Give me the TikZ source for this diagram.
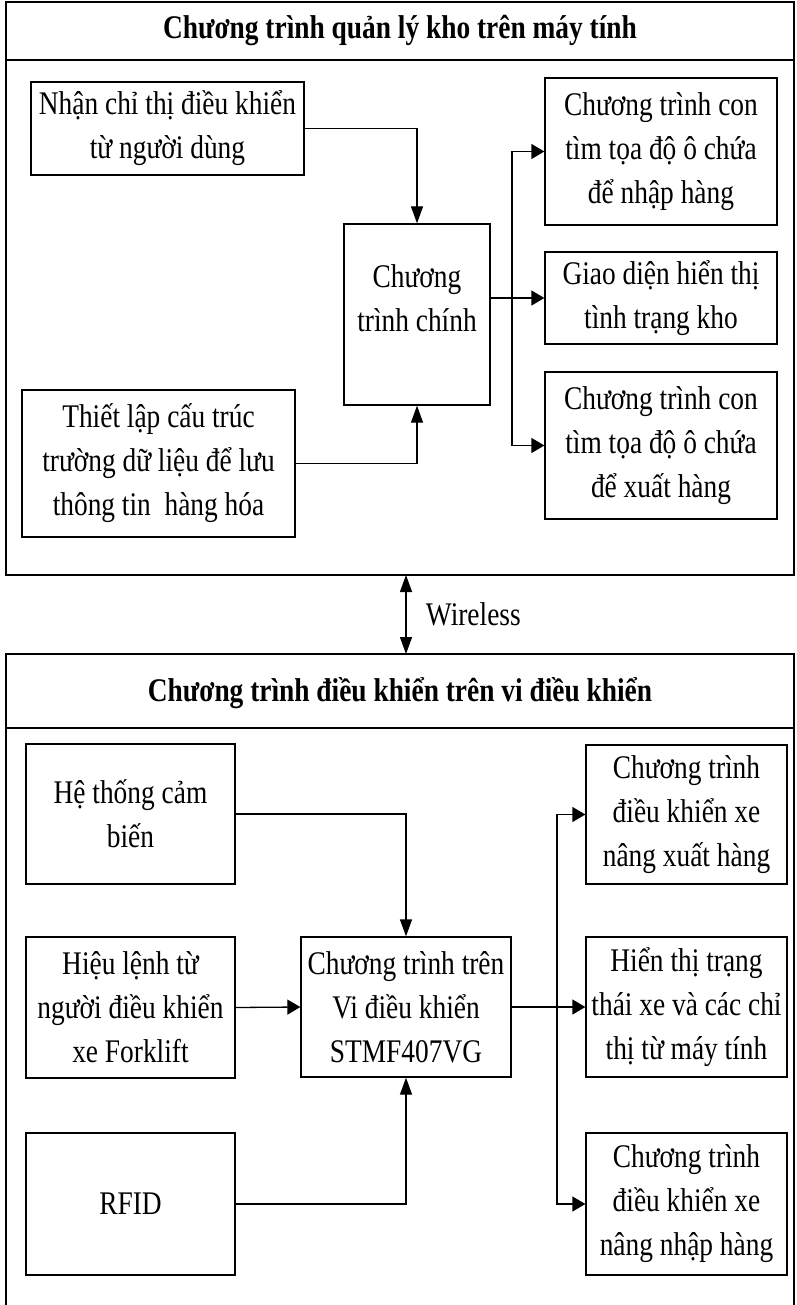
\documentclass[tikz,border=0pt]{standalone}
\usepackage{fontspec}
\setmainfont{Liberation Serif}[FakeStretch=0.83]
\usetikzlibrary{arrows.meta}

\begin{document}
\begin{tikzpicture}[x=1pt,y=-1pt,>={Triangle[length=13pt,width=15pt]},line width=1.3pt,
                    font=\fontsize{33}{44}\selectfont,
                    box/.style 2 args={draw,minimum width=#1,minimum height=#2,inner sep=0pt,align=center},
                    ttl/.style={font=\fontsize{33}{44}\selectfont\bfseries},
                    frm/.style={line width=1.8pt},
                    vtip/.style={-{Triangle[length=17pt,width=12pt]}}]
  \useasboundingbox (0,0) rectangle (796,1305);
  % computer side
  \draw[frm] (6,2) rectangle (794,575) (6,60) -- (794,60);
  \node[ttl] (pc) at (400,31) {Chương trình quản lý kho trên máy tính};
  \node[box={273}{93}] (nhan) at (167.5,128.5) {Nhận chỉ thị điều khiển\\ từ người dùng};
  \node[box={273}{147}] (cautruc) at (158.5,463.5) {Thiết lập cấu trúc\\ trường dữ liệu để lưu\\ thông tin\ \ hàng hóa};
  \node[box={146}{181}] (chinh) at (417,314.5) {};
  \node[align=center,inner sep=0pt] (chinhtxt) at (417,298) {Chương\\ trình chính};
  \node[box={232}{147}] (nhap) at (661,151.5) {Chương trình con\\ tìm tọa độ ô chứa\\ để nhập hàng};
  \node[box={232}{92}] (giaodien) at (661,298) {Giao diện hiển thị\\ tình trạng kho};
  \node[box={232}{147}] (xuat) at (661,445.5) {Chương trình con\\ tìm tọa độ ô chứa\\ để xuất hàng};
  \coordinate (tsplit) at (512,298);
  \draw[vtip] (nhan.east) -| (chinh.north);
  \draw[vtip] (cautruc.east) -| (chinh.south);
  \draw[->] (chinh.east |- giaodien.west) -- (giaodien.west);
  \draw[->] (tsplit) |- (nhap.west);
  \draw[->] (tsplit) |- (xuat.west);
  % link between the two
  \coordinate (wtop) at (406,575);
  \coordinate (wbot) at (406,654);
  \draw[{Triangle[length=17pt,width=12pt]}-{Triangle[length=17pt,width=12pt]}] (wtop) -- (wbot);
  \node[anchor=west] (wl) at (422,614) {Wireless};
  % microcontroller side
  \draw[frm] (6,1305) -- (6,654) -- (794,654) -- (794,1305) (6,728) -- (794,728);
  \node[ttl] (mcu) at (400,693) {Chương trình điều khiển trên vi điều khiển};
  \node[box={209}{140}] (cambien) at (130.5,814) {Hệ thống cảm\\ biến};
  \node[box={209}{141}] (hieulenh) at (130.5,1007.5) {Hiệu lệnh từ\\ người điều khiển\\ xe Forklift};
  \node[box={209}{142}] (rfid) at (130.5,1204) {RFID};
  \node[box={210}{140}] (vdk) at (406,1007) {Chương trình trên\\ Vi điều khiển\\ STMF407VG};
  \node[box={201}{139}] (xenang1) at (686.5,814.5) {Chương trình\\ điều khiển xe\\ nâng xuất hàng};
  \node[box={201}{140}] (hienthi) at (686.5,1007) {Hiển thị trạng\\ thái xe và các chỉ\\ thị từ máy tính};
  \node[box={201}{142}] (xenang2) at (686.5,1204) {Chương trình\\ điều khiển xe\\ nâng nhập hàng};
  \coordinate (bsplit) at (557,1007);
  \draw[vtip] (cambien.east) -| (vdk.north);
  \draw[->] (hieulenh.east) -- (vdk.west);
  \draw[vtip] (rfid.east) -| (vdk.south);
  \draw[->] (vdk.east) -- (hienthi.west);
  \draw[->] (bsplit) |- (xenang1.west);
  \draw[->] (bsplit) |- (xenang2.west);
\end{tikzpicture}
\end{document}
